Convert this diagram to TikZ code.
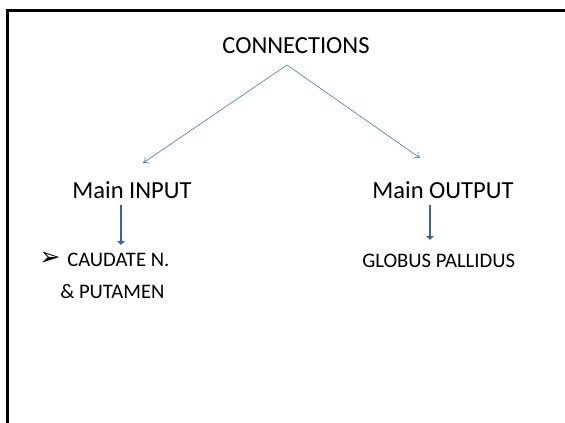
\documentclass[tikz,border=0pt]{standalone}
\usepackage{fontspec}
\setmainfont{Carlito}
\newfontfamily\symfont{DejaVu Sans}
\usetikzlibrary{arrows.meta}
\definecolor{thinblue}{HTML}{4F81BD}
\definecolor{darkblue}{HTML}{3C6198}

\begin{document}
\begin{tikzpicture}[x=0.75pt,y=-0.75pt,
    big/.style={font=\fontsize{18.4}{21}\selectfont, inner sep=0pt},
    small/.style={font=\fontsize{15.5}{18}\selectfont, inner sep=0pt, anchor=west},
    link/.style={-{To[length=4pt,width=6pt]}, thinblue, line width=0.5pt},
    down/.style={-{Triangle[length=3pt,width=5.5pt]}, darkblue, line width=2.2pt}]
\useasboundingbox (0,0) rectangle (565,423);
% frame, only left and top edges
\draw[line width=2.2pt] (7.5,423) -- (7.5,10.5) -- (565,10.5);

% headings
\node[big] (conn) at (296,46) {CONNECTIONS};
\node[big] (in) at (132,190) {Main INPUT};
\node[big] (out) at (443,190) {Main OUTPUT};

% items
\node[small, font=\symfont\fontsize{19}{21}\selectfont] (bul) at (39,259) {➢};
\node[small] (cau) at (67,260) {CAUDATE N.};
\node[small] (put) at (60,292) {\& PUTAMEN};
\node[small] (gp) at (362,261) {GLOBUS PALLIDUS};

% arrow ends
\coordinate (apex) at (287,65);
\coordinate (inTip) at (143,163);
\coordinate (outTip) at (420,158);
\coordinate (inTop) at (121,205);
\coordinate (inBot) at (121,245);
\coordinate (outTop) at (430,205);
\coordinate (outBot) at (430,240);

\draw[link] (apex) -- (inTip);
\draw[link] (apex) -- (outTip);
\draw[down] (inTop) -- (inBot);
\draw[down] (outTop) -- (outBot);
\end{tikzpicture}
\end{document}
